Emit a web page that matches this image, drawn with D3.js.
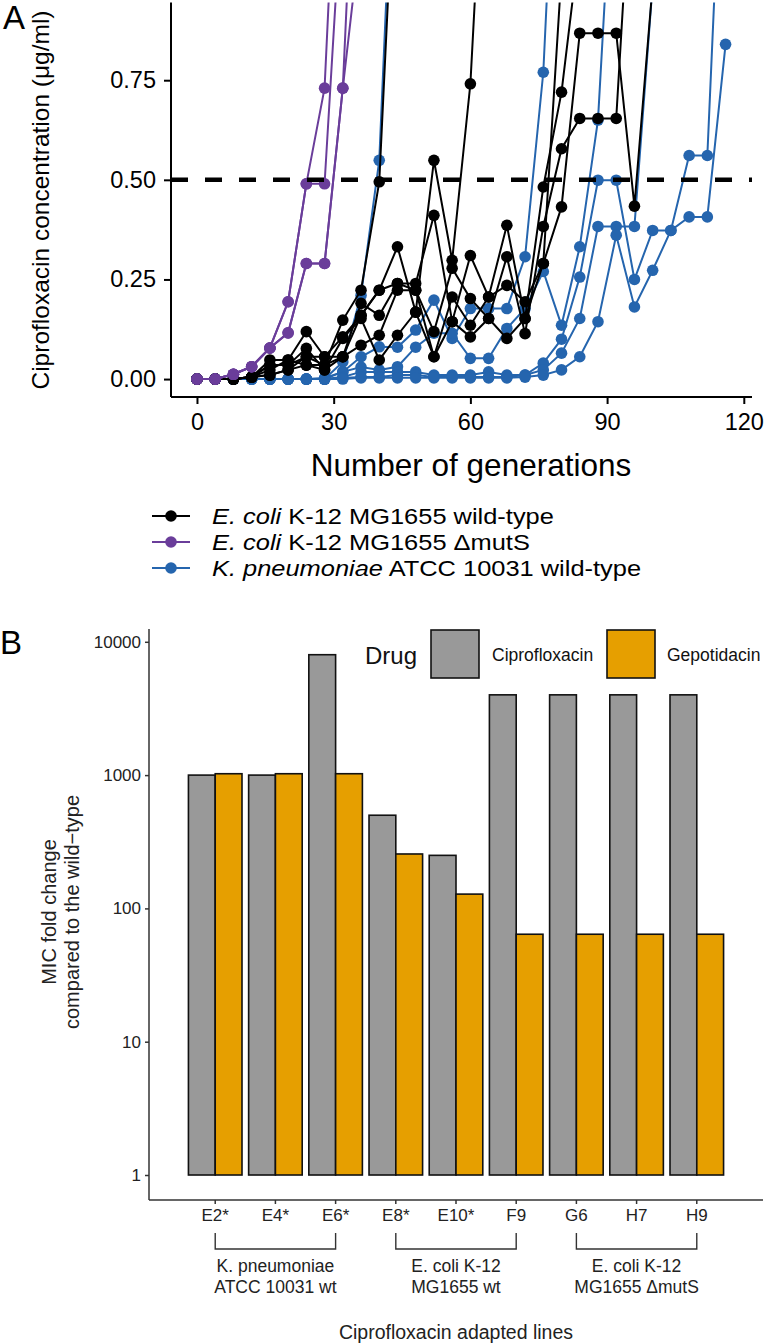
<!DOCTYPE html>
<html><head><meta charset="utf-8">
<script src="https://cdn.jsdelivr.net/npm/d3@7"></script>
<style>body{margin:0;background:#fff}svg{display:block;font-family:"Liberation Sans",Arial,Helvetica,sans-serif}</style>
</head><body><svg id="c" width="766" height="1343"></svg>
<script>
// ---------- Panel A data ----------
const generations = [0,4,8,12,16,20,24,28,32,36,40,44,48,52,56,60,64,68,72,76,80,84,88,92,96,100,104,108,112,116];
const ecoliWT = [
  [0,0,0,0.005,0.01,0.023,0.056,0.035,0.148,0.223,0.495,1.45],
  [0,0,0,0.005,0.048,0.048,0.119,0.056,0.106,0.16,0.223,0.332,0.168,0.549,0.298,0.741,1.6],
  [0,0,0,0.005,0.035,0.035,0.077,0.023,0.056,0.19,0.16,0.24,0.24,0.411,0.144,0.31,0.206,0.386,0.152,0.482,0.72,1.1],
  [0,0,0,0.005,0.023,0.048,0.035,0.035,0.056,0.085,0.11,0.223,0.223,0.119,0.278,0.202,0.152,0.307,0.114,0.383,0.578,0.654,0.654,0.654,1.42],
  [0,0,0,0.005,0.01,0.023,0.035,0.023,0.102,0.152,0.048,0.11,0.168,0.056,0.206,0.135,0.206,0.235,0.194,0.29,0.432,0.868,0.868,0.868,0.434,0.99],
  [0,0,0,0.005,0.035,0.035,0.056,0.056,0.056,0.16,0.223,0.24,0.223,0.056,0.144,0.106,0.152,0.102,0.152,0.29,1.02]
];
const ecoliMutS = [
  [0,0,0.012,0.031,0.078,0.194,0.49,0.49,1.25],
  [0,0,0.012,0.031,0.078,0.194,0.49,0.73,1.7],
  [0,0,0.012,0.031,0.078,0.116,0.29,0.29,0.73,1.13],
  [0,0,0.012,0.031,0.078,0.116,0.29,0.29,0.73,1.73]
];
const kpneuWT = [
  [0,0,0,0,0,0,0,0,0.043,0.21,0.549,1.6],
  [0,0,0,0,0,0,0,0.003,0.018,0.056,0.081,0.08,0.123,0.198,0.102,0.177,0.177,0.177,0.307,0.77,1.73],
  [0,0,0,0,0,0,0,0,0.018,0.03,0.023,0.031,0.08,0.115,0.115,0.052,0.052,0.127,0.177,0.27,0.135,0.332,0.65,1.46],
  [0,0,0,0,0,0,0,0,0.005,0.018,0.018,0.018,0.018,0.01,0.01,0.01,0.018,0.01,0.01,0.04,0.1,0.256,0.499,0.499,0.25,0.373,0.373,0.561,0.561,1.6],
  [0,0,0,0,0,0,0,0,0.003,0.005,0.005,0.01,0.01,0.005,0.005,0.005,0.005,0.005,0.01,0.023,0.065,0.152,0.383,0.383,0.383,0.99],
  [0,0,0,0,0,0,0,0,0,0.003,0.003,0.003,0.003,0.003,0.003,0.003,0.003,0.003,0.005,0.01,0.023,0.056,0.144,0.361,0.181,0.273,0.373,0.407,0.407,0.84]
];
const xTicksA = [0,30,60,90,120];
const yTicksA = [0,0.25,0.5,0.75];
const threshold = 0.5;
const legendA = [
  {it:"E. coli", rest:" K-12 MG1655 wild-type", color:"#000000"},
  {it:"E. coli", rest:" K-12 MG1655 \u0394mutS", color:"#6a3d9a"},
  {it:"K. pneumoniae", rest:" ATCC 10031 wild-type", color:"#2565ae"}
];

// ---------- Panel B data ----------
const lines = ["E2*","E4*","E6*","E8*","E10*","F9","G6","H7","H9"];
const drugs = ["Ciprofloxacin","Gepotidacin"];
const cipro = [1000,1000,8000,500,250,4000,4000,4000,4000];
const gepo  = [1024,1024,1024,256,128,64,64,64,64];
const yTicksB = [1,10,100,1000,10000];
const groups = [
  {first:"E2*", last:"E6*", mid:"E4*", label:["K. pneumoniae","ATCC 10031 wt"]},
  {first:"E8*", last:"F9", mid:"E10*", label:["E. coli K-12","MG1655 wt"]},
  {first:"G6", last:"H9", mid:"H7", label:["E. coli K-12","MG1655 \u0394mutS"]}
];
const drugColors = ["#999999","#E69F00"];

const svg = d3.select("#c");

// ================= PANEL A =================
const xA = d3.scaleLinear().domain([-5.7,121.8]).range([171,752]);
const yA = d3.scaleLinear().domain([-0.045,0.945]).range([397,2.5]);

svg.append("text").attr("x",3).attr("y",29).attr("font-size",33).text("A");

svg.append("defs").append("clipPath").attr("id","clipA")
  .append("rect").attr("x",171).attr("y",2.5).attr("width",581).attr("height",394.5);

const gA = svg.append("g");
const plotA = gA.append("g").attr("clip-path","url(#clipA)");

const lineGen = d3.line().x((d,i)=>xA(generations[i])).y(d=>yA(d));
function drawSeries(set,color){
  set.forEach(s=>{
    plotA.append("path").attr("d",lineGen(s)).attr("fill","none")
      .attr("stroke",color).attr("stroke-width",2);
  });
  set.forEach(s=>{
    plotA.selectAll(null).data(s).enter().append("circle")
      .attr("cx",(d,i)=>xA(generations[i])).attr("cy",d=>yA(d)).attr("r",5.8).attr("fill",color);
  });
}
drawSeries(kpneuWT,"#2565ae");
drawSeries(ecoliWT,"#000000");
drawSeries(ecoliMutS,"#6a3d9a");

plotA.append("line").attr("x1",171).attr("x2",752).attr("y1",yA(threshold)).attr("y2",yA(threshold))
  .attr("stroke","#000").attr("stroke-width",4.5).attr("stroke-dasharray","17 17");

const axAy = gA.append("g").attr("transform","translate(171,0)")
  .call(d3.axisLeft(yA).tickValues(yTicksA).tickFormat(d3.format(".2f")).tickSize(7).tickPadding(8));
const axAx = gA.append("g").attr("transform","translate(0,397)")
  .call(d3.axisBottom(xA).tickValues(xTicksA).tickSize(7).tickPadding(9));
[axAy,axAx].forEach(a=>{
  a.select(".domain").attr("stroke","#000").attr("stroke-width",2);
  a.selectAll(".tick line").attr("stroke","#000").attr("stroke-width",2);
  a.selectAll("text").attr("font-size",23.5).attr("fill","#000").attr("font-family",null);
});
axAy.select(".domain").attr("d","M0,2.5V397");
axAx.select(".domain").attr("d","M171,0H752");

svg.append("text").attr("transform","translate(40,200) rotate(-90)").attr("text-anchor","middle")
  .attr("dominant-baseline","central").attr("font-size",24.5).text("Ciprofloxacin concentration (\u03bcg/ml)");
svg.append("text").attr("x",471).attr("y",476).attr("text-anchor","middle").attr("font-size",31.5).text("Number of generations");

// legend A
const legY = [516,542,568];
legendA.forEach((l,i)=>{
  const g = svg.append("g");
  g.append("line").attr("x1",152).attr("x2",190).attr("y1",legY[i]).attr("y2",legY[i]).attr("stroke",l.color).attr("stroke-width",2);
  g.append("circle").attr("cx",171).attr("cy",legY[i]).attr("r",5.8).attr("fill",l.color);
  const t = g.append("text").attr("transform",`translate(212,${legY[i]}) scale(1.13,1)`)
    .attr("dominant-baseline","central").attr("font-size",22.5);
  t.append("tspan").attr("font-style","italic").text(l.it);
  t.append("tspan").text(l.rest);
});

// ================= PANEL B =================
svg.append("text").attr("x",0).attr("y",654).attr("font-size",33).text("B");

const xB = d3.scaleBand().domain(lines).range([149,763]).paddingInner(0.11).paddingOuter(0.655);
const xSub = d3.scaleBand().domain(drugs).range([0,xB.bandwidth()]);
const yB = d3.scaleLog().domain([Math.pow(10,-0.1875),Math.pow(10,4.096)]).range([1200,629]);

const gB = svg.append("g");
lines.forEach((ln,i)=>{
  [cipro[i],gepo[i]].forEach((v,j)=>{
    gB.append("rect").attr("x",xB(ln)+xSub(drugs[j])).attr("width",xSub.bandwidth())
      .attr("y",yB(v)).attr("height",yB(1)-yB(v))
      .attr("fill",drugColors[j]).attr("stroke","#111").attr("stroke-width",1.6);
  });
});

const axBy = gB.append("g").attr("transform","translate(149,0)")
  .call(d3.axisLeft(yB).tickValues(yTicksB).tickFormat(d3.format("d")).tickSize(4).tickPadding(4));
const axBx = gB.append("g").attr("transform","translate(0,1200)")
  .call(d3.axisBottom(xB).tickSize(4).tickPadding(5));
[axBy,axBx].forEach(a=>{
  a.select(".domain").attr("stroke","#333").attr("stroke-width",1.5);
  a.selectAll(".tick line").attr("stroke","#333").attr("stroke-width",1.5);
  a.selectAll("text").attr("font-size",17).attr("fill","#222").attr("font-family",null);
});
axBy.select(".domain").attr("d","M0,629V1200");
axBx.select(".domain").attr("d","M149,0H763");

// brackets
groups.forEach(gr=>{
  const x1 = xB(gr.first)+xB.bandwidth()/2, x2 = xB(gr.last)+xB.bandwidth()/2, xm = xB(gr.mid)+xB.bandwidth()/2;
  gB.append("path").attr("d",`M${x1},1233V1249H${x2}V1233`).attr("fill","none").attr("stroke","#333").attr("stroke-width",1.4);
  gr.label.forEach((t,k)=>{
    gB.append("text").attr("x",xm).attr("y",1266+k*21).attr("text-anchor","middle").attr("dominant-baseline","central")
      .attr("font-size",17.5).attr("fill","#222").text(t);
  });
});

svg.append("text").attr("x",456).attr("y",1332).attr("text-anchor","middle").attr("dominant-baseline","central")
  .attr("font-size",19.5).attr("fill","#222").text("Ciprofloxacin adapted lines");

svg.append("text").attr("transform","translate(49,912) rotate(-90)").attr("text-anchor","middle")
  .attr("dominant-baseline","central").attr("font-size",20).attr("fill","#222").text("MIC fold change");
svg.append("text").attr("transform","translate(72,912) rotate(-90)").attr("text-anchor","middle")
  .attr("dominant-baseline","central").attr("font-size",20).attr("fill","#222").text("compared to the wild\u2212type");

// legend B
svg.append("text").attr("x",417).attr("y",655).attr("text-anchor","end").attr("dominant-baseline","central").attr("font-size",24).attr("fill","#111").text("Drug");
const legBx = [431,607], legTx = [492,667];
drugs.forEach((d,j)=>{
  svg.append("rect").attr("x",legBx[j]).attr("y",630).attr("width",48).attr("height",48)
    .attr("fill",drugColors[j]).attr("stroke","#111").attr("stroke-width",1.6);
  svg.append("text").attr("x",legTx[j]).attr("y",655).attr("dominant-baseline","central").attr("font-size",17.5).attr("fill","#111").text(d);
});
</script></body></html>
